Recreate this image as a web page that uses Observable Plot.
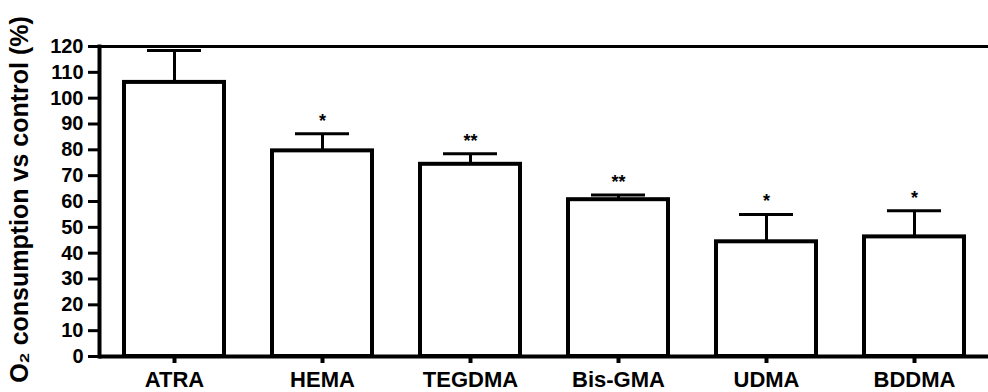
<!DOCTYPE html>
<html><head><meta charset="utf-8">
<script src="https://cdn.jsdelivr.net/npm/d3@7"></script>
<script src="https://cdn.jsdelivr.net/npm/@observablehq/plot@0.6"></script>
<style>
html,body{margin:0;padding:0;background:#fff}
#chart svg{display:block}
</style>
</head><body><div id="chart"></div>
<script>
const categories = ["ATRA", "HEMA", "TEGDMA", "Bis-GMA", "UDMA", "BDDMA"];
const means = [106.1, 79.6, 74.4, 60.7, 44.4, 46.3];
const errors = [12.4, 6.6, 4.1, 1.8, 10.6, 10.1];
const significance = ["", "*", "**", "**", "*", "*"];
const yTicks = [0, 10, 20, 30, 40, 50, 60, 70, 80, 90, 100, 110, 120];
const yTitle = "O\u2082 consumption vs control (%)";

const data = categories.map((c, i) => ({
  cat: c, mean: means[i], upper: means[i] + errors[i], sig: significance[i]
}));

const font = "'Liberation Sans', Arial, sans-serif";

const chart = Plot.plot({
  width: 988,
  height: 392,
  marginLeft: 99,
  marginRight: 0,
  marginTop: 46,
  marginBottom: 36,
  style: {fontFamily: font, fontWeight: "bold", background: "#fff", color: "#000", overflow: "visible"},
  x: {domain: categories, paddingInner: 0.30, paddingOuter: 0.141, label: null},
  y: {domain: [0, 120], label: null},
  marks: [
    Plot.ruleY([120], {strokeWidth: 3, stroke: "#000"}),
    Plot.barY(data, {x: "cat", y: "mean", fill: "#fff", stroke: "#000", strokeWidth: 4, insetLeft: 2, insetRight: 2}),
    Plot.ruleX(data, {x: "cat", y1: "mean", y2: "upper", stroke: "#000", strokeWidth: 3}),
    Plot.tickY(data, {x: "cat", y: "upper", stroke: "#000", strokeWidth: 3, inset: 25}),
    Plot.text(data, {x: "cat", y: "upper", text: "sig", dy: -7, lineAnchor: "bottom", fontSize: 18, fontWeight: "bold", fill: "#000"}),
    Plot.ruleY([0], {strokeWidth: 4, stroke: "#000"}),
    Plot.frame({anchor: "left", strokeWidth: 4, stroke: "#000"}),
    Plot.axisY({ticks: yTicks, tickSize: 11, tickPadding: 5, strokeWidth: 3, fontSize: 20, fontWeight: "bold", label: null, tickFormat: d => String(d)}),
    Plot.axisX({tickSize: 7, tickPadding: 8, strokeWidth: 4, fontSize: 22, fontWeight: "bold", label: null}),
    Plot.text([yTitle], {frameAnchor: "left", textAnchor: "middle", rotate: -90, dx: -80, dy: -2, fontSize: 25, fontWeight: "bold", fill: "#000", text: d => d})
  ]
});
document.getElementById("chart").appendChild(chart);
</script>
</body></html>
